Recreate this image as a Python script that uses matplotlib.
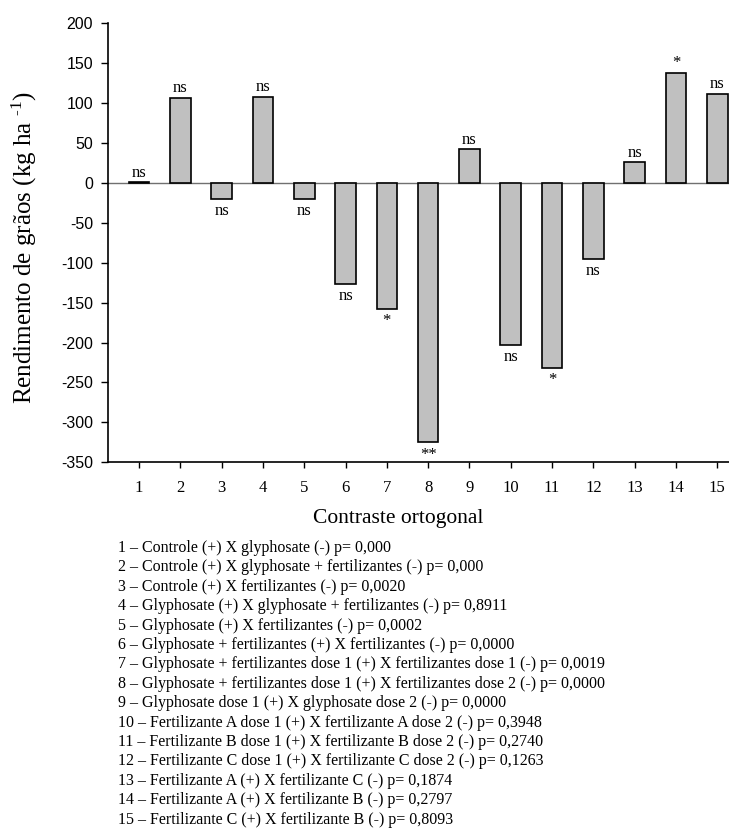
import matplotlib
matplotlib.use("Agg")
import matplotlib.pyplot as plt
import numpy as np

contrasts = list(range(1, 16))
values = [1, 107, -20, 108, -20, -127, -158, -325, 42, -203, -232, -95, 26, 138, 112]
signif = ["ns", "ns", "ns", "ns", "ns", "ns", "*", "**", "ns", "ns", "*", "ns", "ns", "*", "ns"]
yticks = [200, 150, 100, 50, 0, -50, -100, -150, -200, -250, -300, -350]
footnotes = [
    "1 – Controle (+) X glyphosate (-) p= 0,000",
    "2 – Controle (+) X glyphosate + fertilizantes (-) p= 0,000",
    "3 – Controle (+) X fertilizantes (-) p= 0,0020",
    "4 – Glyphosate (+) X glyphosate + fertilizantes (-) p= 0,8911",
    "5 – Glyphosate (+) X fertilizantes (-) p= 0,0002",
    "6 – Glyphosate + fertilizantes (+) X fertilizantes (-) p= 0,0000",
    "7 – Glyphosate + fertilizantes dose 1 (+) X fertilizantes dose 1 (-) p= 0,0019",
    "8 – Glyphosate + fertilizantes dose 1 (+) X fertilizantes dose 2 (-) p= 0,0000",
    "9 – Glyphosate dose 1 (+) X glyphosate dose 2 (-) p= 0,0000",
    "10 – Fertilizante A dose 1 (+) X fertilizante A dose 2 (-) p= 0,3948",
    "11 – Fertilizante B dose 1 (+) X fertilizante B dose 2 (-) p= 0,2740",
    "12 – Fertilizante C dose 1 (+) X fertilizante C dose 2 (-) p= 0,1263",
    "13 – Fertilizante A (+) X fertilizante C (-) p= 0,1874",
    "14 – Fertilizante A (+) X fertilizante B (-) p= 0,2797",
    "15 – Fertilizante C (+) X fertilizante B (-) p= 0,8093",
]

plt.rcParams['mathtext.default'] = 'regular'
plt.rcParams['mathtext.fontset'] = 'custom'
plt.rcParams['mathtext.rm'] = 'Liberation Serif'
SERIF = ['Liberation Serif', 'DejaVu Serif']
SANS = ['Liberation Sans', 'DejaVu Sans']

W, H = 729, 832
fig = plt.figure(figsize=(W / 100, H / 100), dpi=100)
ax = fig.add_axes([108.3 / W, 1 - 462.3 / H, (729 - 108.3) / W, (462.3 - 23.3) / H])

ax.axhline(0, color='#707070', lw=1.0, zorder=1)
ax.bar(contrasts, values, width=0.5, color='#c0c0c0', edgecolor='black', linewidth=1.2, zorder=2)

for x, v, s in zip(contrasts, values, signif):
    if v >= 0:
        ax.annotate(s, (x, v), xytext=(0, 1), textcoords='offset points',
                    ha='center', va='bottom', fontsize=12, family=SERIF)
    else:
        ax.annotate(s, (x, v), xytext=(0, -3), textcoords='offset points',
                    ha='center', va='top', fontsize=12, family=SERIF)

ax.set_xlim(0.255, 15.285)
ax.set_ylim(-350, 200)
ax.set_yticks(yticks)
ax.set_yticklabels([str(t) for t in yticks], family=SANS, fontsize=11.5)
ax.set_xticks(contrasts)
ax.set_xticklabels([str(c) for c in contrasts], family=SERIF, fontsize=12)
ax.tick_params(axis='y', length=5, width=1, pad=6, direction='out')
ax.tick_params(axis='x', length=4.5, width=1, pad=8.5, direction='out')
for side in ['top', 'right']:
    ax.spines[side].set_visible(False)
for side in ['left', 'bottom']:
    ax.spines[side].set_linewidth(1.2)

fig.text(24 / W, 1 - 247.5 / H, r"Rendimento de grãos (kg ha $^{\text{-1}}$)", rotation=90,
         ha='center', va='center', fontsize=18, family=SERIF)
fig.text(398 / W, 1 - 518 / H, "Contraste ortogonal", ha='center', va='center',
         fontsize=15.5, family=SERIF)

for i, line in enumerate(footnotes):
    y = 548 + i * 19.4
    fig.text(118 / W, 1 - y / H, line, ha='left', va='center', fontsize=11.5, family=SERIF)

fig.savefig("out.png", dpi=100)
